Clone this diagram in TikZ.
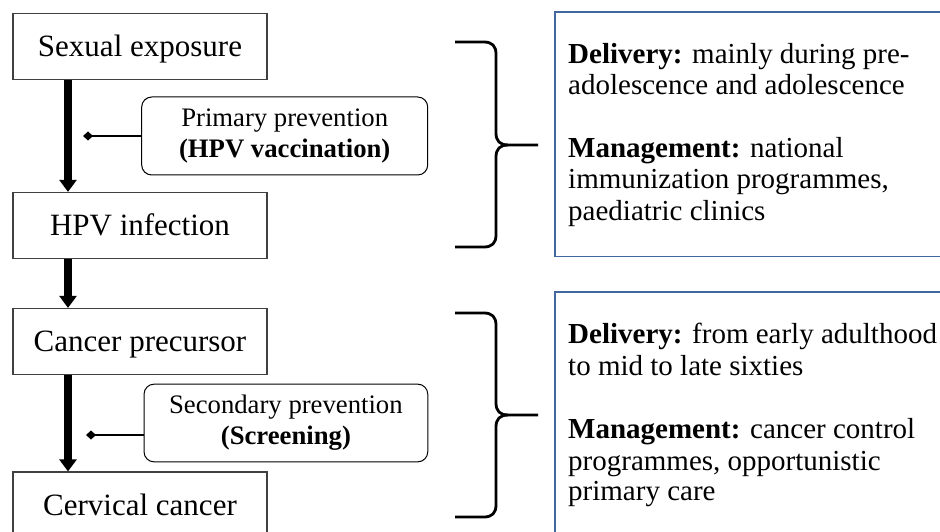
\documentclass[tikz,border=0pt]{standalone}
\usepackage{fontspec}
\setmainfont{Liberation Serif}
\usetikzlibrary{arrows.meta}
\definecolor{boxgray}{HTML}{404040}
\definecolor{boxblue}{HTML}{41679F}
\tikzset{
  stepbox/.style={draw=boxgray, line width=1.3pt, minimum width=254pt, minimum height=66pt, inner sep=0pt,
    font=\fontsize{31}{36}\selectfont, text height=24pt, text depth=4pt},
  flow/.style={line width=8pt, -{Triangle[width=17pt,length=12pt]}},
  prevbox/.style={draw, rounded corners=10pt, line width=1pt, align=center, inner sep=0pt,
    font=\fontsize{26.7}{31}\selectfont},
  conn/.style={line width=2.6pt, -{Diamond[width=9pt,length=10pt]}},
  bracestroke/.style={line width=2.8pt, line join=round, line cap=butt},
  infobox/.style={draw=boxblue, line width=1.2pt},
  infotext/.style={anchor=base west, inner sep=0pt, font=\fontsize{29}{31}\selectfont}
}
\begin{document}
\begin{tikzpicture}[x=1pt,y=-1pt]
\useasboundingbox (0,0) rectangle (940,532);
\clip (0,0) rectangle (940,532);
\fill[white] (0,0) rectangle (940,532);

% left flow boxes
\node[stepbox] (sexexp) at (140,46.5) {Sexual exposure};
\node[stepbox] (hpvinf) at (140,225.5) {HPV infection};
\node[stepbox] (precur) at (140,341.5) {Cancer precursor};
\node[stepbox] (cervca) at (140,505) {Cervical cancer};

% flow arrows
\draw[flow] (sexexp.south -| 68,0) -- (hpvinf.north -| 68,0);
\draw[flow] (hpvinf.south -| 68,0) -- (precur.north -| 68,0);
\draw[flow] (precur.south -| 68,0) -- (cervca.north -| 68,0);

% prevention boxes
\node[prevbox, minimum width=286pt, minimum height=78pt] (prim) at (284.7,136)
  {Primary prevention\\\textbf{(HPV vaccination)}};
\node[prevbox, minimum width=283.7pt, minimum height=77.7pt] (seco) at (285.9,423)
  {Secondary prevention\\\textbf{(Screening)}};

\coordinate (d1) at (83,136);
\coordinate (d2) at (86,435);
\draw[conn] (prim.west |- d1) -- (d1);
\draw[conn] (seco.west |- d2) -- (d2);

% braces
\draw[bracestroke] (455,42) -- (484,42) .. controls (492,42) and (496,46) .. (496,54) -- (496,133)
  .. controls (496,141) and (500,145) .. (508,145) -- (538,145);
\draw[bracestroke] (455,247) -- (484,247) .. controls (492,247) and (496,243) .. (496,235) -- (496,157)
  .. controls (496,149) and (500,145) .. (508,145);
\draw[bracestroke] (455,313) -- (484,313) .. controls (492,313) and (496,317) .. (496,325) -- (496,403)
  .. controls (496,411) and (500,415) .. (508,415) -- (538,415);
\draw[bracestroke] (455,517) -- (484,517) .. controls (492,517) and (496,513) .. (496,505) -- (496,427)
  .. controls (496,419) and (500,415) .. (508,415);

% info boxes
\draw[infobox] (555,12) rectangle (950,256.5);
\draw[infobox] (555,292) rectangle (950,545);

\node[infotext] (t1a) at (568,63.3) {\textbf{Delivery:} mainly during pre-};
\node[infotext] (t1b) at (568,95) {adolescence and adolescence};
\node[infotext] (t1c) at (568,157.3) {\textbf{Management:} national};
\node[infotext] (t1d) at (568,188.3) {immunization programmes,};
\node[infotext] (t1e) at (568,220) {paediatric clinics};

\node[infotext] (t2a) at (568,343.3) {\textbf{Delivery:} from early adulthood};
\node[infotext] (t2b) at (568,375) {to mid to late sixties};
\node[infotext] (t2c) at (568,438.3) {\textbf{Management:} cancer control};
\node[infotext] (t2d) at (568,470) {programmes, opportunistic};
\node[infotext] (t2e) at (568,500) {primary care};
\end{tikzpicture}
\end{document}
